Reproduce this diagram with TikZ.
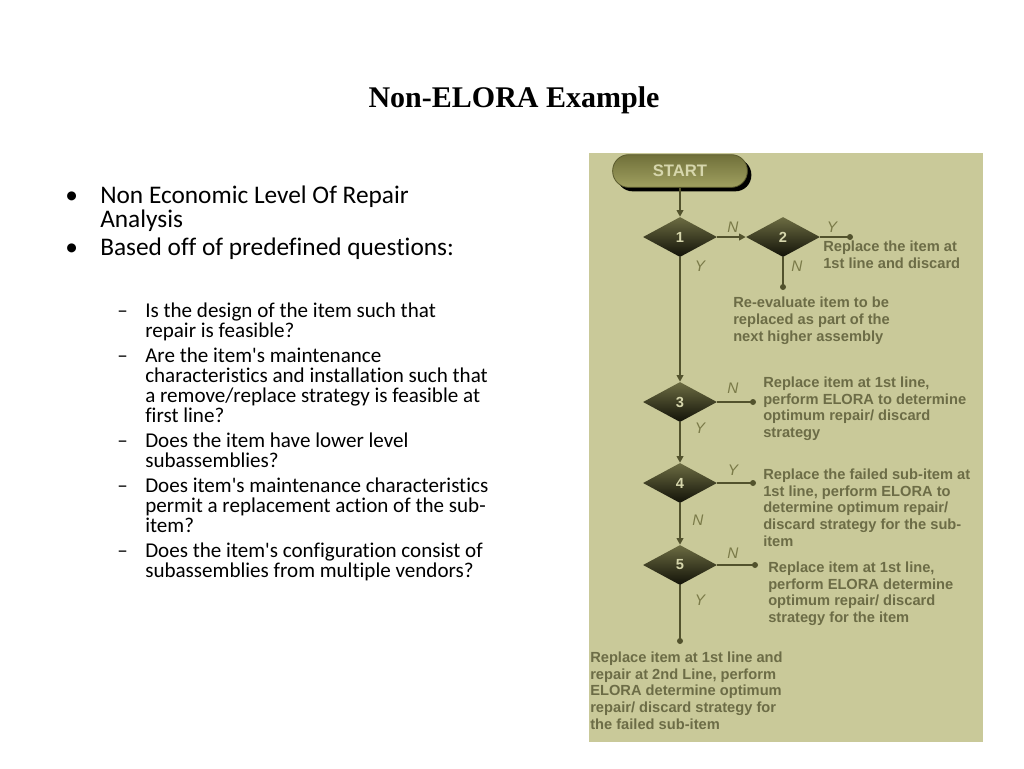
\documentclass[tikz,border=0pt]{standalone}
\usepackage{fontspec}
\setmainfont{Carlito}[Ligatures=NoCommon]
\newfontfamily\titlefont{Liberation Serif}
\newfontfamily\arialfont{Liberation Sans}
\usetikzlibrary{shapes.geometric,arrows.meta,shadows}
\definecolor{panelbg}{RGB}{201,201,153}
\definecolor{flowline}{RGB}{82,82,45}
\definecolor{flowtext}{RGB}{108,108,70}
\definecolor{yntext}{RGB}{122,122,72}
\definecolor{dtop}{RGB}{108,108,66}
\definecolor{dmid}{RGB}{72,72,40}
\definecolor{dbot}{RGB}{18,18,8}
\definecolor{stop}{RGB}{112,112,58}
\definecolor{sbot}{RGB}{160,160,96}
\definecolor{stext}{RGB}{214,214,172}
\newcommand{\apo}{\textquotesingle}
\tikzset{
  titletext/.style={font=\titlefont\bfseries\fontsize{22.5pt}{27pt}\selectfont, anchor=base, inner sep=0pt},
  bul/.style={font=\fontsize{19pt}{18pt}\selectfont, anchor=base west, align=left, inner sep=0pt},
  subbul/.style={font=\fontsize{15.8pt}{15pt}\selectfont, anchor=base west, align=left, inner sep=0pt},
  decision/.style={diamond, minimum width=55.5pt, minimum height=30pt, inner sep=0pt,
     top color=dtop, middle color=dmid, bottom color=dbot, draw=none,
     text=stext, font=\arialfont\bfseries\fontsize{11pt}{12pt}\selectfont},
  startbox/.style={rectangle, rounded corners=12pt, minimum width=101pt, minimum height=24.5pt,
     inner sep=0pt, top color=stop, bottom color=sbot, draw=stop!80!black, line width=0.6pt,
     text=stext, font=\arialfont\bfseries\fontsize{12.5pt}{14pt}\selectfont,
     drop shadow={fill=black, opacity=1, shadow xshift=3pt, shadow yshift=-3pt}},
  ftext/.style={font=\arialfont\bfseries\fontsize{11pt}{12.4pt}\selectfont, text=flowtext,
     anchor=base west, align=left, inner sep=0pt},
  yn/.style={font=\arialfont\itshape\fontsize{11.5pt}{12pt}\selectfont, text=yntext, inner sep=0pt},
  conn/.style={draw=flowline, line width=1.5pt},
  arr/.style={conn, -{Triangle[width=5pt,length=5pt]}},
  dot/.style={circle, fill=flowline, inner sep=0pt, minimum size=4.5pt}
}
\begin{document}
\begin{tikzpicture}[x=0.75pt,y=-0.75pt]
\useasboundingbox (0,0) rectangle (1024,768);
\fill[white] (0,0) rectangle (1024,768);

% title
\node[titletext] (title) at (514,107) {Non-ELORA Example};

% bullets (multi-line nodes are placed by the baseline of their last line)
\node[bul] (b1m) at (65,203) {•};
\node[bul] (b1) at (100,227) {Non Economic Level Of Repair\\Analysis};
\node[bul] (b2m) at (65,255) {•};
\node[bul] (b2) at (100,255) {Based off of predefined questions:};

\node[subbul] (s1m) at (117,317) {–};
\node[subbul] (s1) at (145,337) {Is the design of the item such that\\repair is feasible?};
\node[subbul] (s2m) at (117,362) {–};
\node[subbul] (s2) at (145,422) {Are the item\apo s maintenance\\characteristics and installation such that\\a remove/replace strategy is feasible at\\first line?};
\node[subbul] (s3m) at (117,447) {–};
\node[subbul] (s3) at (145,467) {Does the item have lower level\\subassemblies?};
\node[subbul] (s4m) at (117,492) {–};
\node[subbul] (s4) at (145,532) {Does item\apo s maintenance characteristics\\permit a replacement action of the sub-\\item?};
\node[subbul] (s5m) at (117,557) {–};
\node[subbul] (s5) at (145,577) {Does the item\apo s configuration consist of\\subassemblies from multiple vendors?};

% flowchart panel
\fill[panelbg] (589,153) rectangle (983,742);

\node[startbox] (start) at (680,171) {START};
\node[decision] (d1) at (680,237) {1};
\node[decision] (d2) at (783,237) {2};
\node[decision] (d3) at (680,402) {3};
\node[decision] (d4) at (680,483) {4};
\node[decision] (d5) at (680,565) {5};

\coordinate (e2y) at (850,237);
\coordinate (e2n) at (783,287);
\coordinate (e3) at (753,402);
\coordinate (e4) at (753,483);
\coordinate (e5) at (755,565);
\coordinate (e5y) at (680,641);

\draw[arr] (start.south) -- (d1.north);
\draw[arr] (d1.east) -- (d2.west);
\draw[conn] (d2.east) -- (e2y);
\draw[conn] (d2.south) -- (e2n);
\draw[arr] (d1.south) -- (d3.north);
\draw[conn] (d3.east) -- (e3);
\draw[arr] (d3.south) -- (d4.north);
\draw[conn] (d4.east) -- (e4);
\draw[arr] (d4.south) -- (d5.north);
\draw[conn] (d5.east) -- (e5);
\draw[conn] (d5.south) -- (e5y);
\foreach \p in {e2y,e2n,e3,e4,e5,e5y} \node[dot] at (\p) {};

% Y / N labels
\node[yn] (n1) at (733,227) {N};
\node[yn] (y2) at (832,227) {Y};
\node[yn] (n2) at (797,266) {N};
\node[yn] (y1) at (700,266) {Y};
\node[yn] (n3) at (733,388) {N};
\node[yn] (y3) at (700,428) {Y};
\node[yn] (y4) at (733,470) {Y};
\node[yn] (n4) at (698,520) {N};
\node[yn] (n5) at (733,553) {N};
\node[yn] (y5) at (700,600) {Y};

% outcome texts (placed by the baseline of their last line)
\node[ftext] (t2y) at (823,268) {Replace the item at\\1st line and discard};
\node[ftext] (t2n) at (733,341) {Re-evaluate item to be\\replaced as part of the\\next higher assembly};
\node[ftext] (t3) at (763,437.5) {Replace item at 1st line,\\perform ELORA to determine\\optimum repair/ discard\\strategy};
\node[ftext] (t4) at (763,546) {Replace the failed sub-item at\\1st line, perform ELORA to\\determine optimum repair/\\discard strategy for the sub-\\item};
\node[ftext] (t5) at (768,622.5) {Replace item at 1st line,\\perform ELORA determine\\optimum repair/ discard\\strategy for the item};
\node[ftext] (t5y) at (590,729) {Replace item at 1st line and\\repair at 2nd Line, perform\\ELORA determine optimum\\repair/ discard strategy for\\the failed sub-item};
\end{tikzpicture}
\end{document}
